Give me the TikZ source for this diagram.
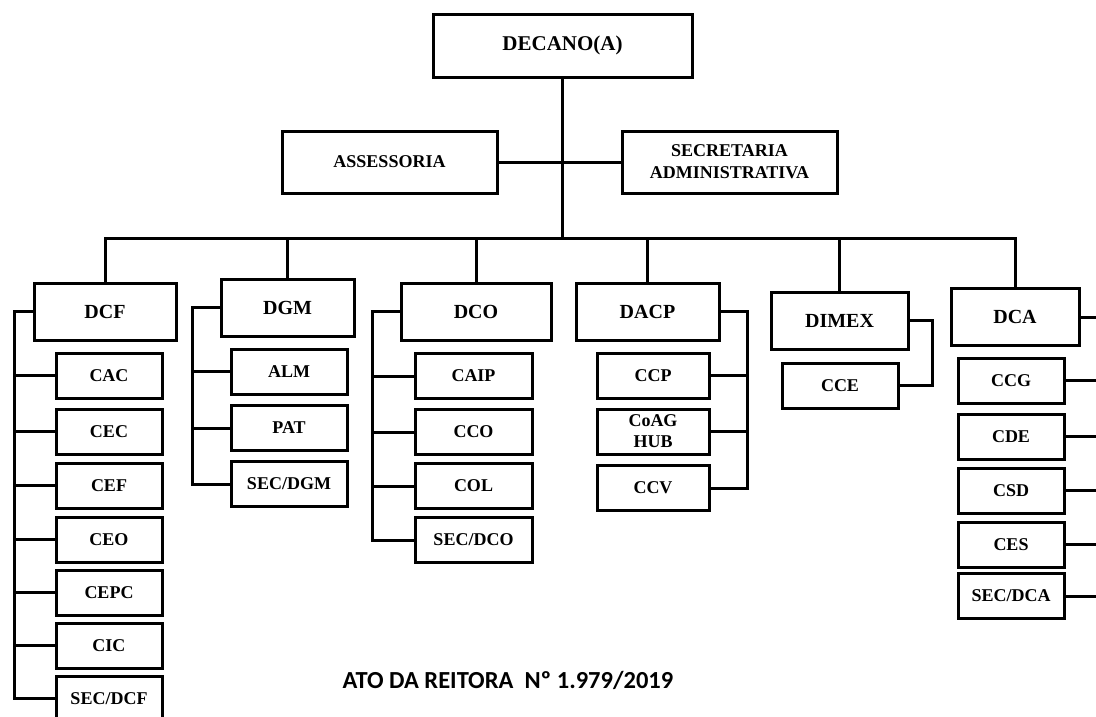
\documentclass[tikz,border=0pt]{standalone}
\usepackage{fontspec}
\setmainfont{Liberation Serif}
\newfontfamily\atofont{Carlito}
\usetikzlibrary{calc}
\tikzset{
  % General box of the chart
  unit/.style={draw, line width=3pt, fill=white, inner sep=0pt,
    align=center},
  % Dean box
  tunit/.style={unit, minimum width=259pt, minimum height=63pt,
    font=\fontsize{21}{24}\selectfont\bfseries},
  % Staff boxes
  sunit/.style={unit, minimum width=215pt, minimum height=62pt,
    font=\fontsize{18}{22}\selectfont\bfseries},
  % Department boxes
  dunit/.style={unit, minimum height=57pt,
    font=\fontsize{20}{22}\selectfont\bfseries},
  % Section boxes
  cunit/.style={unit, minimum height=45pt,
    font=\fontsize{18}{21}\selectfont\bfseries},
  % Connectors
  link/.style={line width=3pt},
}

\begin{document}
\begin{tikzpicture}[x=1pt, y=-1pt]
  \useasboundingbox (0,0) rectangle (1096,716);

  % Top of the chart
  \node[tunit] (decano) at (562.5,45.5) {DECANO(A)};
  \node[sunit] (assessoria) at (389.5,162) {ASSESSORIA};
  \node[sunit] (secretaria) at (729.5,162) {SECRETARIA\\ADMINISTRATIVA};

  \coordinate (bus) at (562.5,238.5);
  \draw[link] (decano) -- (bus);
  \draw[link] (assessoria) -- (secretaria);

  % Departments
  \node[dunit, minimum width=142pt] (dcf) at (105,311.5) {DCF};
  \node[dunit, minimum width=133pt] (dgm) at (287.5,307.5) {DGM};
  \node[dunit, minimum width=150pt] (dco) at (476,311.5) {DCO};
  \node[dunit, minimum width=143pt] (dacp) at (647.5,311.5) {DACP};
  \node[dunit, minimum width=137pt] (dimex) at (839.5,320.5) {DIMEX};
  \node[dunit, minimum width=128pt] (dca) at (1015,317) {DCA};

  \draw[link] (dcf.north) |- (bus -| dca.north) -- (dca.north);
  \foreach \d in {dgm,dco,dacp,dimex}
    \draw[link] (\d.north) -- (\d.north |- bus);

  % DCF sections
  \foreach \nm/\txt/\y in {cac/CAC/375.5, cec/CEC/431.5, cef/CEF/485.5,
      ceo/CEO/539.5, cepc/CEPC/592.5, cic/CIC/645.5, secdcf/{SEC/DCF}/698.5}
    \node[cunit, minimum width=106pt] (\nm) at (109,\y) {\txt};
  \coordinate (dcfbar) at (14,0);
  \draw[link] (dcf.west) -| (dcfbar |- secdcf.west) -- (secdcf.west);
  \foreach \nm in {cac,cec,cef,ceo,cepc,cic}
    \draw[link] (\nm.west) -- (\nm.west -| dcfbar);

  % DGM sections
  \foreach \nm/\txt/\y in {alm/ALM/371.5, pat/PAT/428, secdgm/{SEC/DGM}/484}
    \node[cunit, minimum width=116pt] (\nm) at (289,\y) {\txt};
  \coordinate (dgmbar) at (192,0);
  \draw[link] (dgm.west) -| (dgmbar |- secdgm.west) -- (secdgm.west);
  \foreach \nm in {alm,pat}
    \draw[link] (\nm.west) -- (\nm.west -| dgmbar);

  % DCO sections
  \foreach \nm/\txt/\y in {caip/CAIP/376, cco/CCO/432, col/COL/486,
      secdco/{SEC/DCO}/540}
    \node[cunit, minimum width=117pt] (\nm) at (473.5,\y) {\txt};
  \coordinate (dcobar) at (372,0);
  \draw[link] (dco.west) -| (dcobar |- secdco.west) -- (secdco.west);
  \foreach \nm in {caip,cco,col}
    \draw[link] (\nm.west) -- (\nm.west -| dcobar);

  % DACP sections
  \foreach \nm/\txt/\y in {ccp/CCP/375.5, coag/{CoAG\\HUB}/431.5, ccv/CCV/488}
    \node[cunit, minimum width=112pt] (\nm) at (653,\y) {\txt};
  \coordinate (dacpbar) at (747,0);
  \draw[link] (dacp.east) -| (dacpbar |- ccv.east) -- (ccv.east);
  \foreach \nm in {ccp,coag}
    \draw[link] (\nm.east) -- (\nm.east -| dacpbar);

  % DIMEX section
  \node[cunit, minimum width=116pt] (cce) at (840,385.5) {CCE};
  \coordinate (dimexbar) at (932,0);
  \draw[link] (dimex.east) -| (dimexbar |- cce.east) -- (cce.east);

  % DCA sections
  \foreach \nm/\txt/\y in {ccg/CCG/380.5, cde/CDE/436.5, csd/CSD/490.5,
      ces/CES/544.5, secdca/{SEC/DCA}/596}
    \node[cunit, minimum width=106pt] (\nm) at (1011,\y) {\txt};
  \coordinate (dcabar) at (1099,0);
  \draw[link] (dca.east) -| (dcabar |- secdca.east) -- (secdca.east);
  \foreach \nm in {ccg,cde,csd,ces}
    \draw[link] (\nm.east) -- (\nm.east -| dcabar);

  % Act reference
  \node[font=\atofont\bfseries\fontsize{24.5}{28}\selectfont, anchor=base]
    (ato) at (508,688) {ATO DA REITORA \ Nº 1.979/2019};
\end{tikzpicture}
\end{document}
